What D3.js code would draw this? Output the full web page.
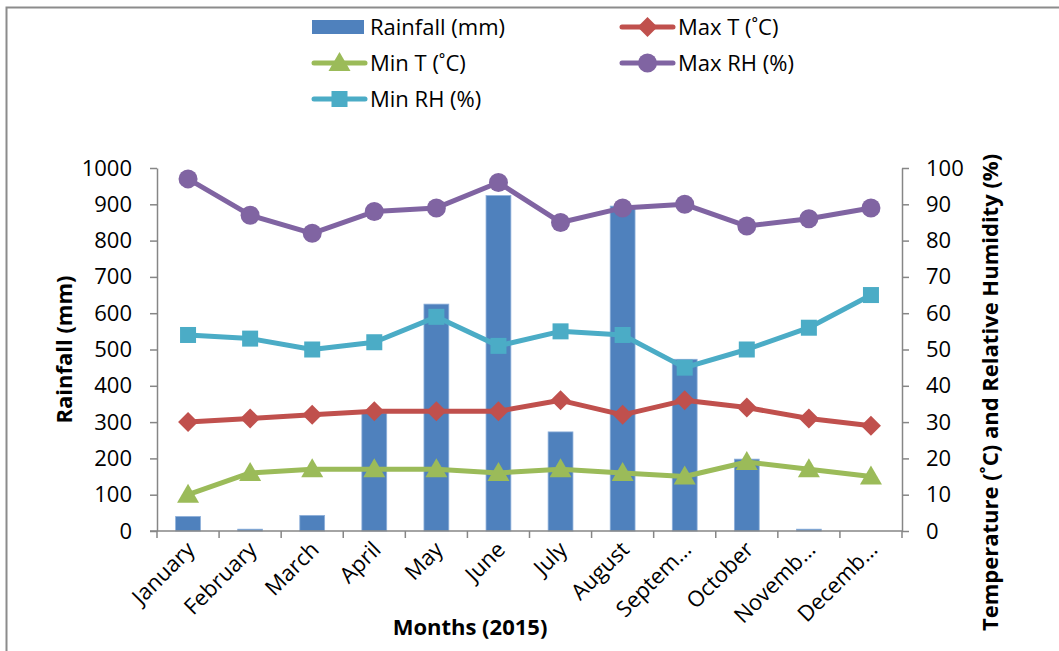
<!DOCTYPE html>
<html>
<head>
<meta charset="utf-8">
<script src="https://cdn.jsdelivr.net/npm/d3@7"></script>
<style>
  html, body { margin: 0; padding: 0; background: #fff; }
  svg { display: block; font-family: "Open Sans", "Liberation Sans", sans-serif; }
</style>
</head>
<body>
<svg id="chart" width="1059" height="651"></svg>
<script>
// Monthly weather, 2015
const months = ["January", "February", "March", "April", "May", "June",
                "July", "August", "Septem…", "October", "Novemb…", "Decemb…"];
const rainfall = [40, 5, 43, 325, 625, 924, 273, 895, 473, 198, 5, 0];
const maxT  = [30, 31, 32, 33, 33, 33, 36, 32, 36, 34, 31, 29];
const minT  = [10, 16, 17, 17, 17, 16, 17, 16, 15, 19, 17, 15];
const maxRH = [97, 87, 82, 88, 89, 96, 85, 89, 90, 84, 86, 89];
const minRH = [54, 53, 50, 52, 59, 51, 55, 54, 45, 50, 56, 65];
const leftTicks  = [0, 100, 200, 300, 400, 500, 600, 700, 800, 900, 1000];
const rightTicks = [0, 10, 20, 30, 40, 50, 60, 70, 80, 90, 100];

const lineSeries = [
  { name: "Max T (˚C)",  values: maxT,  color: "#C0504D", marker: "diamond" },
  { name: "Min T (˚C)",  values: minT,  color: "#9BBB59", marker: "triangle" },
  { name: "Max RH (%)",  values: maxRH, color: "#8064A2", marker: "circle" },
  { name: "Min RH (%)",  values: minRH, color: "#4BACC6", marker: "square" }
];
const barColor = "#4F81BD";
const axisColor = "#868686";
const tickFont = "22px";
const titleFont = "22px";

const svg = d3.select("#chart");

// outer frame
svg.append("rect")
  .attr("x", 6.5).attr("y", 7.5).attr("width", 1100).attr("height", 700)
  .attr("fill", "none").attr("stroke", "#8c8c8c").attr("stroke-width", 2);

const plot = { left: 157, right: 902, top: 168, bottom: 531 };

const x = d3.scaleBand().domain(months).range([plot.left, plot.right]).padding(0);
const yL = d3.scaleLinear().domain([0, 1000]).range([plot.bottom, plot.top]);
const yR = d3.scaleLinear().domain([0, 100]).range([plot.bottom, plot.top]);
const cx = m => x(m) + x.bandwidth() / 2;

// rainfall bars
const barW = x.bandwidth() * 0.4;
svg.append("g").selectAll("rect").data(rainfall).join("rect")
  .attr("x", (d, i) => cx(months[i]) - barW / 2)
  .attr("y", d => yL(d))
  .attr("width", barW)
  .attr("height", d => plot.bottom - yL(d))
  .attr("fill", barColor)
  .attr("stroke", "#8EB0DA").attr("stroke-width", 0.8);

// axes
function styleAxis(g) {
  g.selectAll(".domain").attr("stroke", axisColor).attr("stroke-width", 1.5);
  g.selectAll(".tick line").attr("stroke", axisColor).attr("stroke-width", 1.5);
  g.selectAll(".tick text").attr("fill", "#000").style("font-size", tickFont)
    .style("font-family", "'Open Sans', sans-serif");
}

const gL = svg.append("g").attr("transform", `translate(${plot.left},0)`)
  .call(d3.axisLeft(yL).tickValues(leftTicks).tickFormat(d3.format("d"))
    .tickSize(7).tickPadding(18).tickSizeOuter(0));
styleAxis(gL);

const gR = svg.append("g").attr("transform", `translate(${plot.right},0)`)
  .call(d3.axisRight(yR).tickValues(rightTicks).tickFormat(d3.format("d"))
    .tickSize(7).tickPadding(17).tickSizeOuter(0));
styleAxis(gR);

// x axis: ticks between categories
const gX = svg.append("g").attr("transform", `translate(0,${plot.bottom})`);
gX.append("line").attr("x1", plot.left - 7).attr("x2", plot.right)
  .attr("stroke", axisColor).attr("stroke-width", 1.5);
const boundaries = months.map(m => x(m)).concat([plot.right]);
gX.selectAll("line.tk").data(boundaries).join("line").attr("class", "tk")
  .attr("x1", d => d).attr("x2", d => d).attr("y1", 0).attr("y2", 7)
  .attr("stroke", axisColor).attr("stroke-width", 1.5);
gX.selectAll("text").data(months).join("text")
  .attr("transform", d => `translate(${cx(d) + 8},${20}) rotate(-45)`)
  .attr("text-anchor", "end")
  .style("font-size", tickFont)
  .text(d => d);

// marker shapes
function marker(sel, type, color) {
  if (type === "circle") {
    sel.append("circle").attr("r", 9.5).attr("fill", color);
  } else if (type === "diamond") {
    sel.append("path").attr("d", "M0,-10L10,0L0,10L-10,0Z").attr("fill", color);
  } else if (type === "triangle") {
    sel.append("path").attr("d", "M0,-11L11,8L-11,8Z").attr("fill", color);
  } else {
    sel.append("rect").attr("x", -8).attr("y", -8).attr("width", 16).attr("height", 16).attr("fill", color);
  }
}

// line series
const line = d3.line().x((d, i) => cx(months[i])).y(d => yR(d));
lineSeries.forEach(s => {
  svg.append("path").datum(s.values)
    .attr("d", line).attr("fill", "none")
    .attr("stroke", s.color).attr("stroke-width", 5).attr("stroke-linejoin", "round");
  svg.append("g").selectAll("g").data(s.values).join("g")
    .attr("transform", (d, i) => `translate(${cx(months[i])},${yR(d)})`)
    .each(function () { marker(d3.select(this), s.marker, s.color); });
});

// axis titles
svg.append("text")
  .attr("transform", `translate(72,${(plot.top + plot.bottom) / 2}) rotate(-90)`)
  .attr("text-anchor", "middle").style("font-size", titleFont).style("font-weight", "bold")
  .text("Rainfall (mm)");
svg.append("text")
  .attr("transform", `translate(998,${(plot.top + plot.bottom) / 2 + 43}) rotate(-90)`)
  .attr("text-anchor", "middle").style("font-size", titleFont).style("font-weight", "bold")
  .text("Temperature (˚C) and Relative Humidity (%)");
svg.append("text")
  .attr("x", 470).attr("y", 635)
  .attr("text-anchor", "middle").style("font-size", titleFont).style("font-weight", "bold")
  .text("Months (2015)");

// legend
const legendItems = [
  { name: "Rainfall (mm)", type: "bar", color: barColor, x: 312, y: 27 },
  { name: lineSeries[0].name, type: lineSeries[0].marker, color: lineSeries[0].color, x: 620, y: 27 },
  { name: lineSeries[1].name, type: lineSeries[1].marker, color: lineSeries[1].color, x: 312, y: 63 },
  { name: lineSeries[2].name, type: lineSeries[2].marker, color: lineSeries[2].color, x: 620, y: 63 },
  { name: lineSeries[3].name, type: lineSeries[3].marker, color: lineSeries[3].color, x: 312, y: 99 }
];
const lg = svg.append("g");
legendItems.forEach(it => {
  const g = lg.append("g").attr("transform", `translate(${it.x},${it.y})`);
  if (it.type === "bar") {
    g.append("rect").attr("x", 0).attr("y", -7).attr("width", 52).attr("height", 14).attr("fill", it.color);
  } else {
    g.append("line").attr("x1", 2).attr("x2", 53).attr("stroke", it.color)
      .attr("stroke-width", 5).attr("stroke-linecap", "round");
    const m = g.append("g").attr("transform", "translate(27.5,0)");
    marker(m, it.type, it.color);
  }
  g.append("text").attr("x", 58).attr("y", 8).style("font-size", tickFont).text(it.name);
});
</script>
</body>
</html>
